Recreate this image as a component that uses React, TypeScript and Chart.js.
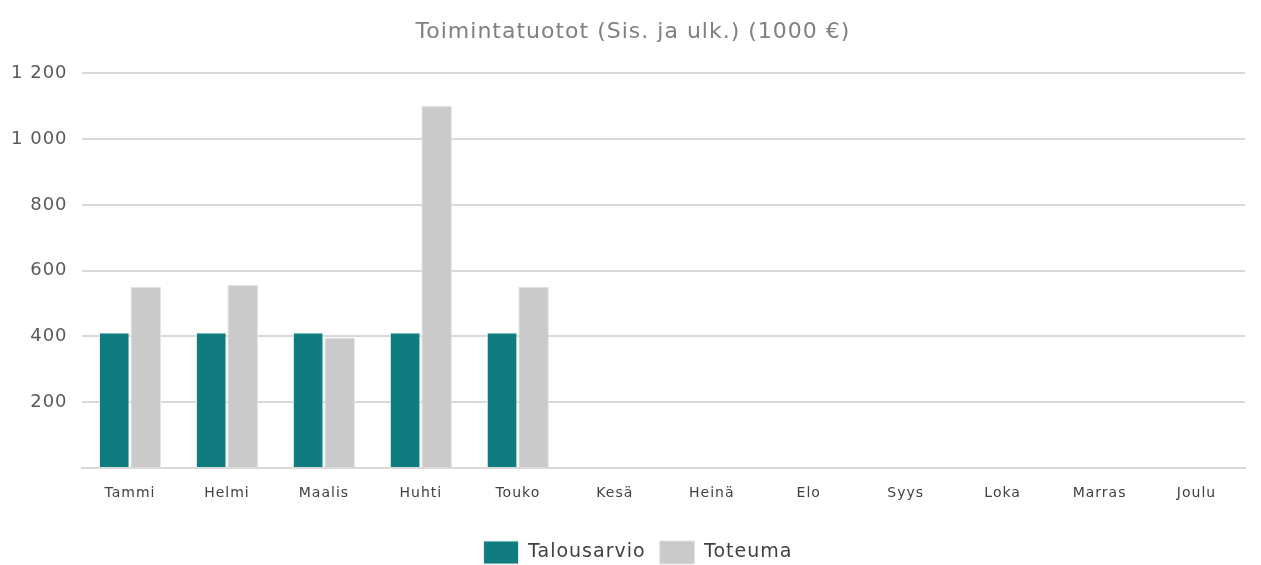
import React, { useEffect, useRef } from "react";
import { Chart, registerables } from "chart.js";

Chart.register(...registerables);

const categories = ["Tammi", "Helmi", "Maalis", "Huhti", "Touko", "Kesä", "Heinä", "Elo", "Syys", "Loka", "Marras", "Joulu"];
const talousarvio = [412, 412, 412, 412, 412, null, null, null, null, null, null, null];
const toteuma = [551, 557, 397, 1102, 551, null, null, null, null, null, null, null];
const titleText = "   Toimintatuotot (Sis. ja ulk.) (1000 €)";

const fmt = (v: number) => String(v).replace(/\B(?=(\d{3})+(?!\d))/g, " ");

const spacingPlugin = {
  id: "letterSpacing",
  beforeUpdate(chart: any) {
    chart.ctx.letterSpacing = "1px";
  },
  beforeLayout(chart: any) {
    chart.ctx.letterSpacing = "1px";
  },
  afterLayout(chart: any) {
    const lg = chart.legend;
    if (lg) {
      lg.left += 17;
      lg.right += 17;
    }
  },
  beforeDraw(chart: any) {
    chart.ctx.letterSpacing = "1px";
  },
};

export default function App() {
  const ref = useRef<HTMLCanvasElement | null>(null);
  useEffect(() => {
    if (!ref.current) return;
    const chart = new Chart(ref.current, {
      type: "bar",
      plugins: [spacingPlugin],
      data: {
        labels: categories,
        datasets: [
          {
            label: "Talousarvio",
            data: talousarvio,
            backgroundColor: "#0F7C80",
            borderColor: "#E6F0F0",
            borderWidth: 1,
            categoryPercentage: 0.65,
            barPercentage: 0.97,
          },
          {
            label: "Toteuma",
            data: toteuma,
            backgroundColor: "#CACACA",
            borderColor: "#E4E4E4",
            borderWidth: 1,
            categoryPercentage: 0.65,
            barPercentage: 0.97,
          },
        ],
      },
      options: {
        animation: false,
        responsive: true,
        maintainAspectRatio: false,
        layout: { padding: { left: -3, right: 16, top: 0, bottom: -9 } },
        plugins: {
          title: {
            display: true,
            text: titleText,
            color: "#808080",
            font: { family: "DejaVu Sans", size: 22, weight: "normal" },
            padding: { top: 19, bottom: 28 },
          },
          legend: {
            position: "bottom",
            labels: {
              color: "#404040",
              font: { family: "DejaVu Sans", size: 19 },
              boxWidth: 35,
              boxHeight: 23,
              padding: 14,
            },
          },
          tooltip: { enabled: false },
        },
        scales: {
          x: {
            grid: { display: false },
            border: { color: "#D9D9D9", width: 2 },
            ticks: {
              color: "#404040",
              font: { family: "DejaVu Sans", size: 14 },
              padding: 9,
              maxRotation: 0,
            },
            afterFit: (scale: any) => {
              scale.height = 59;
            },
          },
          y: {
            min: 0,
            max: 1200,
            grid: { color: "#D9D9D9", lineWidth: 2, drawTicks: false },
            border: { display: false },
            ticks: {
              stepSize: 200,
              color: "#595959",
              font: { family: "DejaVu Sans", size: 18 },
              padding: 14,
              callback: (v: any) => (Number(v) === 0 ? "" : fmt(Number(v))),
            },
          },
        },
      },
    });
    return () => chart.destroy();
  }, []);
  return (
    <div style={{ position: "fixed", left: 0, top: 0, width: 1261, height: 565, background: "#fff" }}>
      <canvas ref={ref} />
    </div>
  );
}
